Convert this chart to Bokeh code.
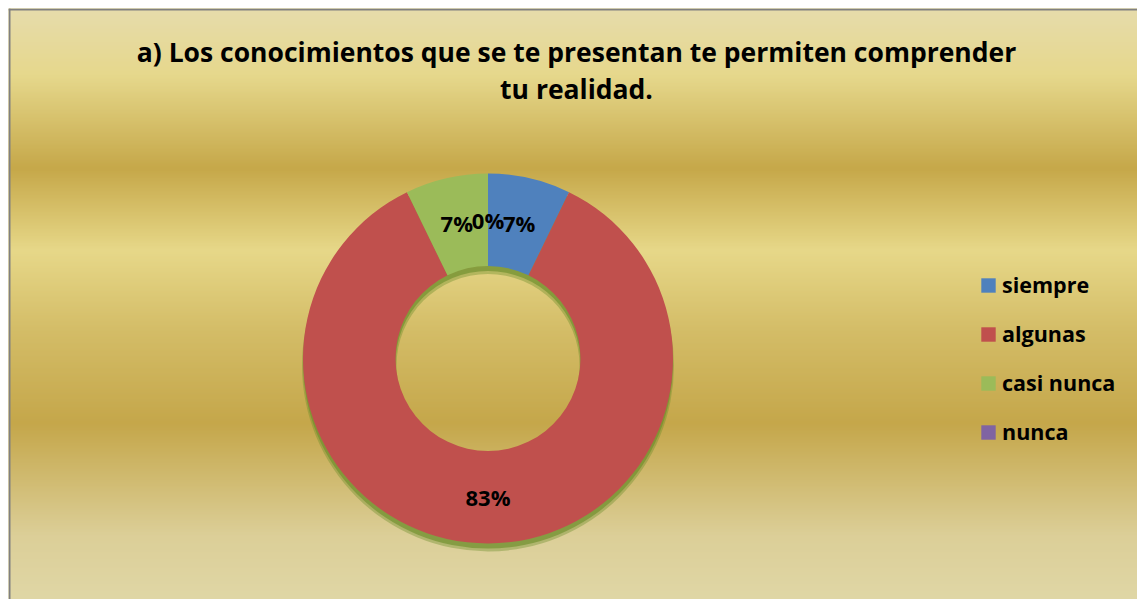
import numpy as np
from bokeh.plotting import figure
from bokeh.models import (ColumnDataSource, Range1d, Label, Legend, LegendItem, Span)
from bokeh.core.properties import value
from bokeh.embed import file_html
from bokeh.resources import INLINE

# ---- data ----
categories = ["siempre", "algunas", "casi nunca", "nunca"]
values = [7, 83, 7, 0]
pct_labels = ["7%", "83%", "7%", "0%"]
colors = ["#4f81bd", "#c0504d", "#9bbb59", "#8064a2"]
title_lines = ["a) Los conocimientos que se te presentan te permiten comprender",
               "tu realidad."]

FW, FH = 1137, 599
W, H = FW - 8, FH - 8          # frame size (8px white inset at top/left)
p = figure(width=FW, height=FH, x_range=Range1d(0, W), y_range=Range1d(0, H),
           output_backend="svg", toolbar_location=None,
           x_axis_location=None, y_axis_location=None,
           min_border_left=8, min_border_top=8, min_border_right=0, min_border_bottom=0)
p.grid.visible = False
p.outline_line_color = None
p.background_fill_color = "#e0d6a0"
p.border_fill_color = "#ffffff"

# ---- background gradient (bands) ----
stops_page_y = [8, 75, 168, 250, 330, 423, 535, 599]
stops_col = ["#e6dcac", "#e6d88c", "#c6a84a", "#e7d889", "#d4bd68", "#c5a74b", "#dccf98", "#e0d7a6"]
def hex2rgb(h):
    return [int(h[i:i + 2], 16) for i in (1, 3, 5)]
rgb = np.array([hex2rgb(c) for c in stops_col], dtype=float)
ys = np.arange(0, H, 1.0)
page_y = FH - (ys + 0.5)
sp = np.array(stops_page_y, dtype=float)
ch = [np.interp(page_y, sp, rgb[:, k]) for k in range(3)]
bg_cols = ["#%02x%02x%02x" % (int(r), int(g), int(b)) for r, g, b in zip(*ch)]
p.quad(left=0, right=W, bottom=ys, top=ys + 1.6, fill_color=bg_cols, line_color=None)

# frame border (top and left)
p.add_layout(Span(location=H - 1, dimension="width", line_color="#808080", line_width=2))
p.add_layout(Span(location=1, dimension="height", line_color="#808080", line_width=2))

# ---- donut ----
cx, cy = 479.5, 241.0
r_out, r_in = 185.0, 92.5
vals = np.array(values, dtype=float)
tot = vals.sum()
cum_end = np.cumsum(vals) / tot
cum_start = np.concatenate([[0.0], cum_end[:-1]])
start = np.pi / 2 - 2 * np.pi * cum_end
end = np.pi / 2 - 2 * np.pi * cum_start
mid = (start + end) / 2

# shadow
p.annular_wedge(x=cx, y=cy - 7, inner_radius=r_in - 1, outer_radius=r_out + 1,
                start_angle=0, end_angle=2 * np.pi, fill_color="#6f8f2c", fill_alpha=0.4, line_color=None)
p.annular_wedge(x=cx, y=cy - 5, inner_radius=r_in, outer_radius=r_out,
                start_angle=0, end_angle=2 * np.pi, fill_color="#6f8f2c", fill_alpha=0.65, line_color=None)

nz = [i for i, v in enumerate(values) if v > 0]
src = ColumnDataSource(dict(cat=[categories[i] for i in nz], start=start[nz], end=end[nz],
                            color=[colors[i] for i in nz]))
p.annular_wedge(x=cx, y=cy, inner_radius=r_in, outer_radius=r_out,
                start_angle="start", end_angle="end", fill_color="color",
                line_color=None, source=src)

# legend-only renderer (zero size) carrying all categories
lg_src = ColumnDataSource(dict(cat=categories, color=colors))
lg_r = p.annular_wedge(x=cx, y=cy, inner_radius=0, outer_radius=0, start_angle=0, end_angle=0.001,
                       fill_color="color", line_color=None, source=lg_src)

r_lab = (r_in + r_out) / 2
lsrc = ColumnDataSource(dict(x=cx + r_lab * np.cos(mid), y=cy + r_lab * np.sin(mid), t=pct_labels))
p.text(x="x", y="y", text="t", source=lsrc, text_font=value("Open Sans"), text_font_style="bold",
       text_font_size="22px", text_align="center", text_baseline="middle", text_color="#000000")

# ---- title ----
for i, line in enumerate(title_lines):
    p.add_layout(Label(x=568, y=548 - 37 * i, x_units="screen", y_units="screen", text=line,
                       text_font="Open Sans", text_font_style="bold", text_font_size="26.5px",
                       text_align="center", text_baseline="alphabetic", text_color="#000000"))

# ---- legend ----
items = [LegendItem(label=c, renderers=[lg_r], index=i) for i, c in enumerate(categories)]
legend = Legend(items=items, location=(971, 152.5), border_line_color=None,
                background_fill_alpha=0, glyph_width=18, glyph_height=18, label_height=30,
                label_text_font="Open Sans", label_text_font_style="bold", label_text_font_size="21.5px",
                label_text_color="#000000",
                spacing=19, padding=0, margin=0, label_standoff=5)
p.add_layout(legend, "center")

open("out.html", "w").write(file_html(p, INLINE))
